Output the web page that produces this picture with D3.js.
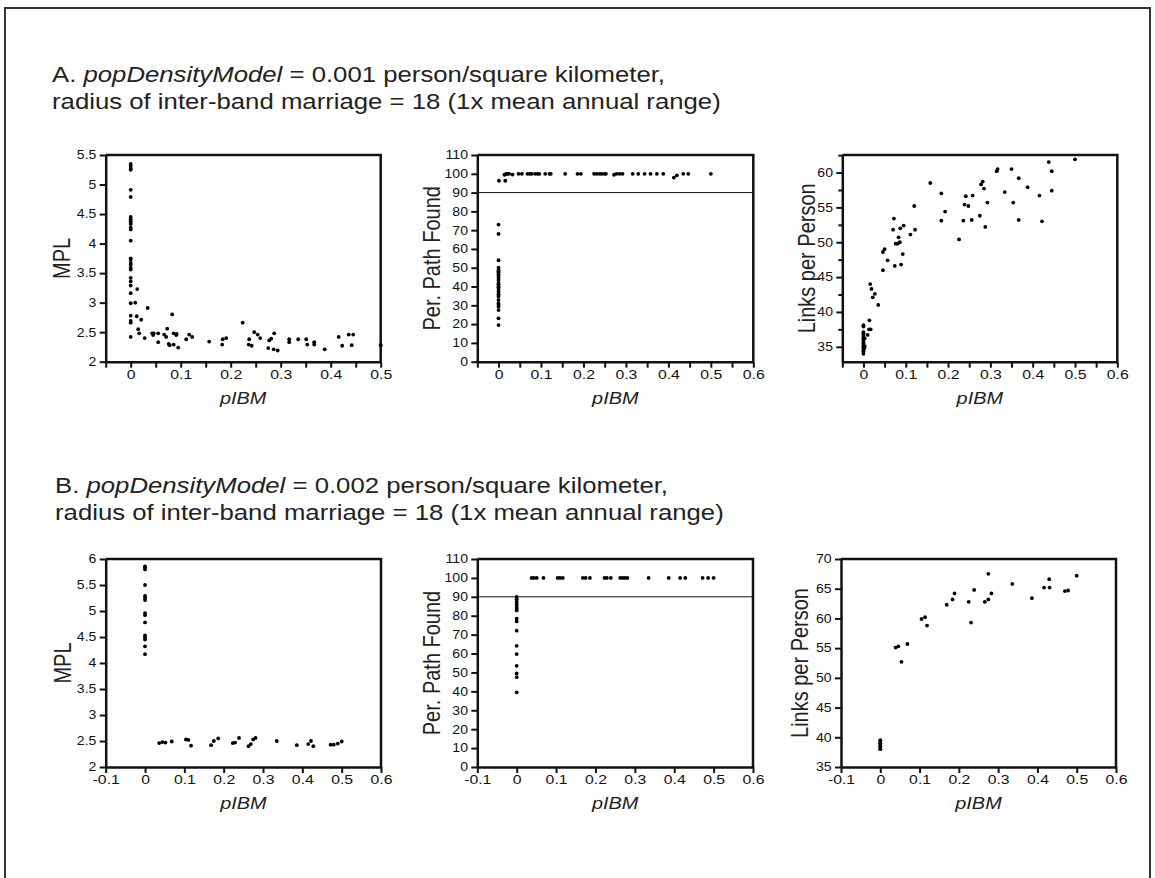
<!DOCTYPE html>
<html>
<head>
<meta charset="utf-8">
<script src="https://cdn.jsdelivr.net/npm/d3@7"></script>
<style>
  body { margin: 0; background: #fff; }
  svg { font-family: Arial, "Liberation Sans", sans-serif; }
</style>
</head>
<body>
<div id="chart"></div>
<script>
///////////// Data /////////////

// panel A : popDensityModel = 0.001
const a1X = [0,0,0,0,0,0,0,0,0,0,0,0,0,0,0,0,0,0,0,0,0,0,0,0,0,0,0,0,0,
  0.013,0.009,0.012,0.021,0.015,0.017,0.028,0.034,0.043,0.045,0.046,0.055,0.055,0.067,0.071,0.073,
  0.076,0.078,0.083,0.086,0.086,0.091,0.092,0.095,0.111,0.117,0.123,0.157,0.183,0.184,0.191,0.224,
  0.236,0.242,0.237,0.247,0.254,0.259,0.275,0.277,0.281,0.287,0.286,0.294,0.317,0.317,0.335,0.351,
  0.353,0.367,0.367,0.388,0.416,0.423,0.436,0.445,0.442,0.5];
const a1MPL = [5.35,5.32,5.28,5.25,4.91,4.79,4.45,4.41,4.38,4.35,4.33,4.27,4.24,4.05,3.75,3.72,3.67,
  3.64,3.59,3.56,3.42,3.36,3.29,3.16,2.99,2.78,2.69,2.66,2.42,
  3.23,3.0,2.77,2.71,2.55,2.48,2.40,2.91,2.48,2.45,2.48,2.48,2.33,2.46,2.42,2.56,
  2.30,2.28,2.80,2.48,2.29,2.45,2.47,2.24,2.38,2.46,2.42,2.34,2.29,2.38,2.40,2.66,
  2.29,2.27,2.38,2.50,2.46,2.40,2.23,2.36,2.39,2.48,2.21,2.19,2.38,2.33,2.38,2.38,
  2.29,2.33,2.29,2.21,2.42,2.27,2.46,2.46,2.28,2.28];

const a2X = [0,0,0,0,0,0,0,0,0,0,0,0,0,0,0,0,0,0,0,0,0,0,0,0,0,0,0,
  0.001,0.016,
  0.014,0.018,0.021,0.025,0.033,0.047,0.055,0.068,0.073,0.078,0.086,0.092,0.096,0.11,0.12,0.123,
  0.157,0.186,0.194,0.225,0.231,0.238,0.243,0.249,0.253,0.272,0.278,0.285,0.292,0.316,0.329,0.344,
  0.358,0.373,0.388,0.413,0.42,0.435,0.447,0.5];
const a2Found = [73,68,54,50,48.8,47.6,46.5,45.6,43.5,42,41.2,40.3,39.6,38.7,37.3,36,34.6,32.8,31,
  29.3,27.5,23.1,19.5,44.5,35.5,30.2,48,
  96.3,96.3,
  99.5,100,100,100,99.6,100,100,100,100,100,100,100,100,100,100,100,
  100,100,100,100,100,100,100,100,100,99.5,100,100,100,100,100,100,
  100,100,100,98,99.2,100,100,100];

const a3X = [0,0,0,0,0,0,0,0,0,0,0,0,0,0,0,0,0.003,0.003,0.002,
  0.01,0.014,0.013,0.017,0.016,0.019,0.022,0.027,0.035,0.046,0.046,0.05,0.057,0.07,0.072,0.074,
  0.076,0.081,0.083,0.086,0.087,0.089,0.093,0.095,0.111,0.12,0.122,0.158,0.184,0.184,0.193,0.226,
  0.236,0.239,0.242,0.248,0.256,0.258,0.275,0.278,0.282,0.285,0.288,0.293,0.315,0.317,0.334,0.35,
  0.354,0.367,0.367,0.388,0.416,0.422,0.438,0.445,0.445,0.5];
const a3Links = [38.1,37.9,37.1,36.9,36.7,36.4,36.2,36.0,35.7,35.5,35.2,35.0,34.8,34.5,34.3,34.0,
  35.1,36.2,34.8,
  36.7,38.8,37.5,37.5,44.0,43.3,42.1,42.6,41.0,46.0,48.6,49.0,47.4,51.8,53.4,46.6,
  49.8,49.8,50.7,50.0,52.0,46.8,48.3,52.4,51.1,55.2,51.8,58.5,57.0,53.1,54.4,50.4,
  53.1,55.4,56.6,55.2,53.2,56.7,53.8,58.3,58.7,57.7,52.2,55.7,60.2,60.5,57.2,60.5,
  55.7,59.2,53.2,57.9,56.7,53.0,61.5,60.2,57.4,61.9];

// panel B : popDensityModel = 0.002
const b1X = [0,0,0,0,0,0,0,0,0,0,0,0,0,0,0,
  0.036,0.044,0.052,0.068,0.104,0.11,0.117,0.168,0.175,0.186,0.223,0.229,0.239,0.263,0.269,0.275,
  0.281,0.335,0.386,0.415,0.422,0.428,0.472,0.48,0.49,0.5];
const b1MPL = [5.86,5.84,5.80,5.50,5.29,5.25,5.21,4.96,4.92,4.78,4.53,4.49,4.45,4.32,4.17,
  2.46,2.48,2.47,2.49,2.53,2.52,2.41,2.42,2.50,2.55,2.46,2.47,2.56,2.40,2.44,2.53,
  2.56,2.50,2.42,2.44,2.50,2.40,2.43,2.43,2.45,2.49];

const b2X = [0,0,0,0,0,0,0,0,0,0,0,0,0,0,0,0,
  0.038,0.044,0.051,0.068,0.104,0.11,0.117,0.168,0.175,0.186,0.223,0.229,0.239,0.263,0.269,0.275,
  0.281,0.335,0.386,0.415,0.428,0.472,0.486,0.5];
const b2Found = [89.9,88.7,87.3,86,84.6,83.7,82.8,78.4,77,72.1,64.1,59.7,53.5,49.5,47.5,39.5,
  100,100,100,100,100,100,100,100,100,100,100,100,100,100,100,100,
  100,100,100,100,100,100,100,100];

const b3X = [0,0,0,0,0,0,0,
  0.039,0.046,0.054,0.069,0.105,0.114,0.119,0.169,0.184,0.189,0.225,0.231,0.239,0.266,0.275,0.275,
  0.283,0.336,0.386,0.417,0.431,0.43,0.47,0.478,0.5];
const b3Links = [39.5,39.2,39.0,38.8,38.5,38.2,38.0,
  55.1,55.3,52.7,55.7,59.9,60.2,58.8,62.3,63.2,64.2,62.8,59.3,64.8,62.8,63.2,67.5,
  64.2,65.8,63.4,65.2,65.2,66.6,64.6,64.7,67.2];

// tick values
const mplTicksA = d3.range(2, 5.51, 0.5);
const mplTicksB = d3.range(2, 6.01, 0.5);
const foundTicks = d3.range(0, 111, 10);
const linksTicksA = d3.range(35, 61, 5);
const linksMinorA = d3.range(37.5, 62.6, 5);
const linksTicksB = d3.range(35, 71, 5);
const xLabelsA1 = [0, 0.1, 0.2, 0.3, 0.4, 0.5];
const xLabelsA = [0, 0.1, 0.2, 0.3, 0.4, 0.5, 0.6];
const xLabelsB = [-0.1, 0, 0.1, 0.2, 0.3, 0.4, 0.5, 0.6];

const width = 1155, height = 878;
const ink = "#111";
// the figure's lettering is a little wider than Arial
const sx = 1.17;

const svg = d3.select("#chart").append("svg")
  .attr("width", width)
  .attr("height", height);

//page frame (bottom edge is cropped in the figure)
svg.append("path")
  .attr("d", `M5,${height} V8 H1150 V${height}`)
  .attr("fill", "none")
  .attr("stroke", "#333")
  .attr("stroke-width", 2);

//panel titles
function title(x, y, label, density) {
  let t = svg.append("text")
    .attr("transform", `translate(${x},${y}) scale(${sx},1)`)
    .style("font-size", "22px").attr("fill", "#222");
  t.append("tspan").text(label + " ");
  t.append("tspan").attr("font-style", "italic").text("popDensityModel");
  t.append("tspan").text(" = " + density + " person/square kilometer,");
  svg.append("text")
    .attr("transform", `translate(${x},${y + 27}) scale(${sx},1)`)
    .style("font-size", "22px").attr("fill", "#222")
    .text("radius of inter-band marriage = 18 (1x mean annual range)");
}
title(52, 82, "A.", "0.001");
title(55, 493, "B.", "0.002");

const fmt = (d) => String(+d.toFixed(2));

//one scatter panel
function panel(p) {
  const x = d3.scaleLinear().domain(p.xDomain).range([p.left, p.right]);
  const y = d3.scaleLinear().domain(p.yDomain).range([p.bottom, p.top]);
  const g = svg.append("g");

  //x axis: ticks below, labels only on the tenths
  const xAxis = d3.axisBottom(x)
    .tickValues(p.xTicks)
    .tickSize(6)
    .tickSizeOuter(0)
    .tickFormat((d) => p.xLabels.some((v) => Math.abs(v - d) < 1e-6) ? fmt(d) : "");
  const gx = g.append("g")
    .attr("transform", `translate(0,${p.bottom})`)
    .call(xAxis);
  gx.attr("font-size", 13.5);
  gx.selectAll("text")
    .attr("font-size", 13.5)
    .style("font-size", "13.5px")
    .attr("fill", ink)
    .attr("y", 17)
    .attr("dy", 0)
    .attr("transform", `scale(${sx},1)`);

  //y axis
  const yAxis = d3.axisLeft(y)
    .tickValues(p.yTicks)
    .tickSize(6)
    .tickSizeOuter(0)
    .tickFormat(fmt);
  const gy = g.append("g")
    .attr("transform", `translate(${p.left},0)`)
    .call(yAxis);
  gy.attr("font-size", 12);
  gy.selectAll("text")
    .attr("font-size", 12)
    .style("font-size", "12px")
    .attr("fill", ink)
    .attr("x", -8)
    .attr("transform", `scale(${sx},1)`);

  if (p.yMinor) {
    g.append("g")
      .attr("transform", `translate(${p.left},0)`)
      .call(d3.axisLeft(y).tickValues(p.yMinor).tickSize(4).tickSizeOuter(0).tickFormat(""))
      .select(".domain").remove();
  }

  g.selectAll(".tick line").attr("stroke", ink).attr("stroke-width", 2);
  g.selectAll(".domain").attr("stroke", ink).attr("stroke-width", 2.5);

  //top and right frame
  g.append("path")
    .attr("d", `M${p.left},${p.top} H${p.right} V${p.bottom}`)
    .attr("fill", "none")
    .attr("stroke", ink)
    .attr("stroke-width", 2.5);

  //90% reference line
  if (p.refLine != null) {
    g.append("line")
      .attr("x1", p.left).attr("x2", p.right)
      .attr("y1", y(p.refLine)).attr("y2", y(p.refLine))
      .attr("stroke", ink).attr("stroke-width", 1);
  }

  //points
  g.append("g").selectAll("circle")
    .data(p.xs.map((v, i) => [v, p.ys[i]]))
    .enter()
    .append("circle")
    .attr("cx", (d) => x(d[0]))
    .attr("cy", (d) => y(d[1]))
    .attr("r", 1.9)
    .attr("fill", "#000");

  //axis titles
  svg.append("text")
    .attr("transform", `translate(${p.labelX},${(p.top + p.bottom) / 2}) scale(${sx},1) rotate(-90)`)
    .attr("text-anchor", "middle")
    .style("font-size", "20px")
    .attr("fill", "#222")
    .text(p.yLabel);
  svg.append("text")
    .attr("transform", `translate(${(p.left + p.right) / 2},${p.bottom + 42}) scale(${sx},1)`)
    .attr("text-anchor", "middle")
    .style("font-size", "17px")
    .attr("font-style", "italic")
    .attr("fill", "#222")
    .text("pIBM");
}

const ticksA1 = d3.range(-0.05, 0.501, 0.05);
const ticksA = d3.range(-0.05, 0.601, 0.05);
const ticksB = d3.range(-0.1, 0.601, 0.1);

panel({ left: 105.7, right: 380.7, top: 155, bottom: 361.7, xDomain: [-0.05, 0.5], yDomain: [2, 5.5],
  xTicks: ticksA1, xLabels: xLabelsA1, yTicks: mplTicksA, xs: a1X, ys: a1MPL, yLabel: "MPL", labelX: 70 });
panel({ left: 477.3, right: 753.3, top: 155, bottom: 361.7, xDomain: [-0.05, 0.6], yDomain: [0, 110],
  xTicks: ticksA, xLabels: xLabelsA, yTicks: foundTicks, xs: a2X, ys: a2Found, refLine: 90,
  yLabel: "Per. Path Found", labelX: 440 });
panel({ left: 842.3, right: 1117.3, top: 155, bottom: 361.7, xDomain: [-0.05, 0.6], yDomain: [32.86, 62.52],
  xTicks: ticksA, xLabels: xLabelsA, yTicks: linksTicksA, yMinor: linksMinorA, xs: a3X, ys: a3Links,
  yLabel: "Links per Person", labelX: 815 });
panel({ left: 105.7, right: 381, top: 559, bottom: 767, xDomain: [-0.1, 0.6], yDomain: [2, 6],
  xTicks: ticksB, xLabels: xLabelsB, yTicks: mplTicksB, xs: b1X, ys: b1MPL, yLabel: "MPL", labelX: 71 });
panel({ left: 477.3, right: 753, top: 559, bottom: 767, xDomain: [-0.1, 0.6], yDomain: [0, 110],
  xTicks: ticksB, xLabels: xLabelsB, yTicks: foundTicks, xs: b2X, ys: b2Found, refLine: 90,
  yLabel: "Per. Path Found", labelX: 440 });
panel({ left: 841, right: 1116, top: 559, bottom: 767, xDomain: [-0.1, 0.6], yDomain: [35, 70],
  xTicks: ticksB, xLabels: xLabelsB, yTicks: linksTicksB, xs: b3X, ys: b3Links,
  yLabel: "Links per Person", labelX: 808 });
</script>
</body>
</html>
